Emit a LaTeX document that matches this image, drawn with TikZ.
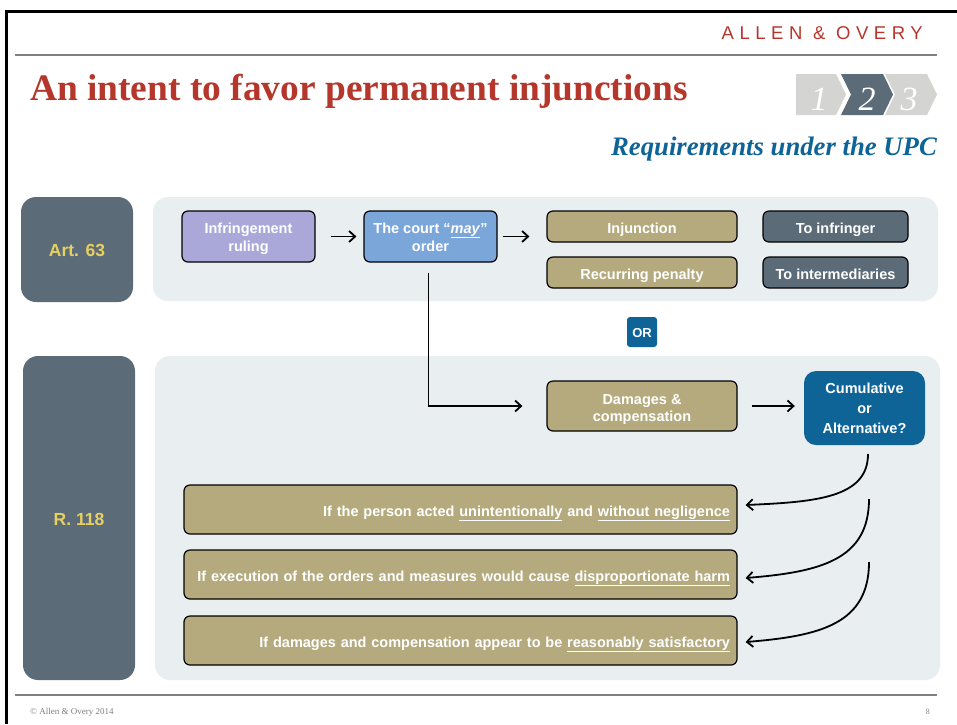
\documentclass[tikz,border=0pt]{standalone}
\usepackage{fontspec}
\setmainfont{Liberation Sans}
\newfontfamily\titlefont{Liberation Serif}
\newfontfamily\brandfont{Liberation Sans}[LetterSpace=30]
\usetikzlibrary{arrows.meta}
\definecolor{slate}{RGB}{91,107,120}
\definecolor{panelgray}{RGB}{233,238,241}
\definecolor{lavender}{RGB}{169,168,216}
\definecolor{courtblue}{RGB}{123,166,217}
\definecolor{khaki}{RGB}{180,170,125}
\definecolor{upcblue}{RGB}{14,100,150}
\definecolor{titlered}{RGB}{181,54,42}
\definecolor{labelyellow}{RGB}{232,208,96}
\definecolor{chevgray}{RGB}{212,212,210}
\definecolor{rulegray}{RGB}{128,128,128}
\newcommand\boxfont{\fontsize{14.5}{18}\selectfont\bfseries}
\tikzset{
panel/.style={fill=panelgray, rounded corners=15pt, minimum width=785pt, inner sep=0pt},
artbox/.style={fill=slate, rounded corners=15pt, minimum width=112pt, inner sep=0pt,
  text=labelyellow, font=\fontsize{17.5}{20}\selectfont\bfseries,
  text height=14pt, text depth=0pt},
box/.style={draw=black, line width=1.2pt, rounded corners=6pt, text=white,
  font=\boxfont, align=center, inner sep=0pt},
oneline/.style={text height=13.4pt, text depth=0pt},
condbox/.style={box, oneline, fill=khaki, text width=539pt, align=right, inner xsep=7pt,
  minimum height=49pt},
bluebox/.style={fill=upcblue, text=white, align=center, inner sep=0pt},
flow/.style={-{Straight Barb[length=6pt,width=11pt]}, line width=1.8pt}
}
\begin{document}
\begin{tikzpicture}[x=1pt,y=-1pt]
  \useasboundingbox (0,0) rectangle (957,724);
  \fill[white] (0,0) rectangle (957,724);
  % frame and rules
  \draw[line width=3pt] (6.5,724) -- (6.5,11.5) -- (957,11.5);
  \draw[rulegray, line width=1.5pt] (15,55) -- (937,55);
  \draw[rulegray, line width=1.5pt] (15,695) -- (937,695);
  \node[anchor=base east, inner sep=0pt, text=titlered,
    font=\brandfont\fontsize{18.5}{20}\selectfont] (brand) at (923,39.5) {ALLEN \& OVERY};
  \node[anchor=base west, inner sep=0pt, text=titlered,
    font=\titlefont\bfseries\fontsize{37.4}{40}\selectfont] (title) at (30,100)
    {An intent to favor permanent injunctions};
  % step chevrons
  \fill[chevgray] (796,74) -- (836,74) -- (846,94.5) -- (836,115) -- (796,115) -- cycle;
  \fill[slate] (841,74) -- (883,74) -- (893,94.5) -- (883,115) -- (841,115) -- (851,94.5) -- cycle;
  \fill[chevgray] (885,74) -- (927,74) -- (937,94.5) -- (927,115) -- (885,115) -- (895,94.5) -- cycle;
  \node[anchor=base, text=white, font=\titlefont\itshape\fontsize{34}{34}\selectfont] (step1) at (819,110) {1};
  \node[anchor=base, text=white, font=\titlefont\itshape\fontsize{34}{34}\selectfont] (step2) at (867,110) {2};
  \node[anchor=base, text=white, font=\titlefont\itshape\fontsize{34}{34}\selectfont] (step3) at (909,110) {3};
  \node[anchor=base east, inner sep=0pt, text=upcblue,
    font=\titlefont\bfseries\itshape\fontsize{26.7}{30}\selectfont] (upc) at (937,155)
    {Requirements under the UPC};
  % panels
  \node[panel, minimum height=104pt] (p63) at (545.5,249) {};
  \node[panel, minimum height=324pt] (p118) at (547.5,518) {};
  \node[artbox, minimum height=105pt] (art) at (77,249.5) {Art. 63};
  \node[artbox, minimum height=324pt] (rule) at (79,518) {R. 118};
  % Art. 63
  \node[box, fill=lavender, minimum width=133pt, minimum height=51pt,
    text height=29.4pt, text depth=0pt] (infr) at (248.5,236.5) {Infringement\\ruling};
  \node[box, fill=courtblue, minimum width=133pt, minimum height=51pt,
    text height=29.4pt, text depth=0pt] (court) at (430.5,236.5)
    {The court “\underline{\textit{may}}”\\order};
  \node[box, oneline, fill=khaki, minimum width=190pt, minimum height=31pt] (inj) at (642,226.5) {Injunction};
  \node[box, oneline, fill=khaki, minimum width=190pt, minimum height=31pt] (pen) at (642,272.5) {Recurring penalty};
  \node[box, oneline, fill=slate, minimum width=145pt, minimum height=31pt] (toinf) at (835.5,226.5) {To infringer};
  \node[box, oneline, fill=slate, minimum width=145pt, minimum height=31pt] (tointer) at (835.5,272.5) {To intermediaries};
  \node[bluebox, rounded corners=3pt, minimum size=30pt, text height=11.3pt, text depth=0pt,
    font=\fontsize{13}{15}\selectfont\bfseries] (or) at (642,332) {OR};
  % R. 118
  \node[box, fill=khaki, minimum width=190pt, minimum height=50pt, text height=30.4pt, text depth=0pt,
    font=\fontsize{14.5}{17}\selectfont\bfseries] (dmg) at (642,406) {Damages \&\\compensation};
  \node[bluebox, rounded corners=12pt, minimum width=121pt, minimum height=74pt,
    text height=50.4pt, text depth=0pt,
    font=\fontsize{14.5}{20}\selectfont\bfseries] (cum) at (864.5,408) {Cumulative\\or\\Alternative?};
  \node[condbox] (cond1) at (460.5,509.5)
    {If the person acted \underline{unintentionally} and \underline{without negligence}};
  \node[condbox] (cond2) at (460.5,574.5)
    {If execution of the orders and measures would cause \underline{disproportionate harm}};
  \node[condbox] (cond3) at (460.5,640.5)
    {If damages and compensation appear to be \underline{reasonably satisfactory}};
  \coordinate (c1) at (868,454);
  \coordinate (c2) at (869,499);
  \coordinate (c3) at (869,562);
  % connectors
  \draw[flow, shorten <=15pt, shorten >=7pt] (infr) -- (court);
  \draw[flow, shorten <=5pt, shorten >=17pt] (court.east) -- (court.east -| inj.west);
  \draw[flow, shorten >=24pt] ([xshift=-2pt,yshift=-10pt]court.south) |- (dmg.west);
  \draw[flow, shorten <=14pt, shorten >=9pt] (dmg.east) -- (dmg.east -| cum.west);
  \draw[flow] (c1) .. controls (868,498) and (815,502) .. ([xshift=8pt,yshift=4.5pt]cond1.east);
  \draw[flow] (c2) .. controls (869,560) and (820,572) .. ([xshift=8pt,yshift=-3.5pt]cond2.east);
  \draw[flow] (c3) .. controls (869,624) and (820,636) .. ([xshift=8pt,yshift=-1.5pt]cond3.east);
  % footer
  \node[anchor=base west, inner sep=0pt, text=rulegray,
    font=\titlefont\fontsize{9}{10}\selectfont] (copy) at (30,714) {© Allen \& Overy 2014};
  \node[anchor=base east, inner sep=0pt, text=rulegray,
    font=\titlefont\fontsize{8}{10}\selectfont] (page) at (930,714) {8};
\end{tikzpicture}
\end{document}
